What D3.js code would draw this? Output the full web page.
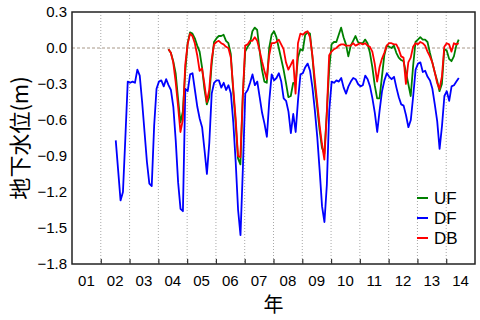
<!DOCTYPE html>
<html>
<head>
<meta charset="utf-8">
<script src="https://cdn.jsdelivr.net/npm/d3@7"></script>
<style>
  body { margin: 0; background: #fff; }
  svg { display: block; font-family: "Liberation Sans", Arial, sans-serif; }
</style>
</head>
<body>
<div id="chart"></div>
<script>
// monthly groundwater level (m), first reading as decimal year
var dfStart = 2002.52;
var ufStart = 2004.35;
var dbStart = 2004.35;

var dfValues = [
  -0.77, -1.02, -1.27, -1.20, -0.75, -0.28, -0.29, -0.28, -0.29, -0.18, -0.23, -0.45,
  -0.70, -0.95, -1.13, -1.15, -0.65, -0.34, -0.28, -0.27, -0.32, -0.26, -0.31, -0.35,
  -0.49, -0.77, -1.12, -1.34, -1.36, -0.34, -0.36, -0.22, -0.21, -0.35, -0.49, -0.59,
  -0.66, -0.85, -1.05, -0.79, -0.38, -0.29, -0.27, -0.27, -0.33, -0.29, -0.35, -0.31,
  -0.38, -0.62, -0.95, -1.35, -1.56, -1.00, -0.38, -0.35, -0.29, -0.22, -0.31, -0.28,
  -0.41, -0.54, -0.63, -0.74, -0.44, -0.22, -0.27, -0.25, -0.21, -0.28, -0.42, -0.44,
  -0.53, -0.71, -0.55, -0.70, -0.43, -0.22, -0.21, -0.16, -0.13, -0.19, -0.33, -0.52,
  -0.74, -1.02, -1.32, -1.45, -1.14, -0.52, -0.28, -0.29, -0.27, -0.28, -0.25, -0.33,
  -0.38, -0.32, -0.28, -0.25, -0.26, -0.30, -0.32, -0.31, -0.23, -0.26, -0.32, -0.42,
  -0.54, -0.70, -0.52, -0.36, -0.27, -0.21, -0.24, -0.26, -0.24, -0.33, -0.41, -0.47,
  -0.48, -0.56, -0.66, -0.60, -0.40, -0.18, -0.13, -0.12, -0.20, -0.19, -0.24, -0.27,
  -0.34, -0.47, -0.61, -0.84, -0.65, -0.40, -0.36, -0.44, -0.32, -0.31, -0.28, -0.25
];

var ufValues = [
  -0.01, -0.04, -0.11, -0.21, -0.42, -0.62, -0.53, -0.20, 0.04, 0.13, 0.12, 0.08,
  0.02, -0.03, -0.16, -0.34, -0.47, -0.41, -0.14, 0.05, 0.08, 0.10, 0.10, 0.11,
  0.06, 0.04, -0.05, -0.36, -0.62, -0.92, -0.97, -0.40, -0.03, 0.01, 0.04, 0.14,
  0.17, 0.15, -0.02, -0.18, -0.28, -0.29, 0.00, 0.11, 0.14, 0.09, 0.00, -0.09,
  -0.18, -0.29, -0.41, -0.40, -0.29, -0.30, -0.08, -0.01, -0.02, 0.11, 0.13, 0.12,
  -0.07, -0.31, -0.49, -0.68, -0.83, -0.88, -0.55, -0.18, 0.03, 0.05, 0.05, 0.11,
  0.17, 0.09, 0.03, -0.07, 0.02, 0.06, 0.10, 0.05, 0.04, 0.04, 0.07, 0.04,
  -0.04, -0.16, -0.31, -0.42, -0.42, -0.24, -0.06, 0.02, 0.01, 0.00, 0.02, -0.04,
  -0.08, -0.10, -0.11, -0.20, -0.30, -0.40, -0.15, 0.05, 0.07, 0.09, 0.07, 0.07,
  0.05, -0.04, -0.12, -0.20, -0.27, -0.36, -0.30, -0.01, -0.02, -0.09, -0.11, -0.07,
  0.02, 0.07
];

var dbValues = [
  -0.01, -0.04, -0.12, -0.28, -0.48, -0.70, -0.60, -0.14, 0.03, 0.12, 0.10, 0.04,
  -0.06, -0.19, -0.17, -0.30, -0.45, -0.35, -0.10, 0.03, 0.05, 0.06, 0.04, 0.03,
  0.01, 0.00, -0.08, -0.33, -0.58, -0.90, -0.91, -0.40, 0.02, 0.03, 0.06, 0.06,
  0.09, 0.06, -0.02, -0.11, -0.19, -0.26, -0.06, 0.04, 0.04, 0.05, 0.07, 0.03,
  -0.01, -0.12, -0.18, -0.14, -0.10, -0.38, 0.04, 0.12, 0.11, 0.13, 0.14, 0.09,
  -0.06, -0.26, -0.45, -0.64, -0.80, -0.93, -0.55, -0.06, -0.03, -0.01, 0.00, 0.02,
  0.03, 0.03, 0.02, 0.02, 0.02, 0.04, 0.02, 0.03, 0.04, 0.03, 0.04, 0.02,
  0.01, -0.03, -0.13, -0.28, -0.16, -0.09, -0.04, 0.02, 0.04, 0.04, 0.03, 0.03,
  -0.01, -0.07, -0.08, -0.30, -0.12, -0.08, 0.01, 0.04, 0.03, 0.05, 0.04, 0.02,
  -0.03, -0.07, -0.12, -0.20, -0.29, -0.34, -0.24, 0.01, 0.04, 0.03, -0.03, 0.04,
  0.03, 0.04
];

var yTicks = [-1.8, -1.5, -1.2, -0.9, -0.6, -0.3, 0.0, 0.3];
var yearBounds = [2002, 2003, 2004, 2005, 2006, 2007, 2008, 2009, 2010, 2011, 2012, 2013, 2014];
var yearLabels = ["01", "02", "03", "04", "05", "06", "07", "08", "09", "10", "11", "12", "13", "14"];
var seriesNames = ["UF", "DF", "DB"];
var seriesColors = ["#008000", "#0000ff", "#ff0000"];

var margin = { top: 12, right: 5, bottom: 56, left: 72 },
  width = 480 - margin.left - margin.right,
  height = 320 - margin.top - margin.bottom;

var svg = d3.select("#chart").append("svg")
  .attr("width", 480)
  .attr("height", 320);

var g = svg.append("g")
  .attr("transform", "translate(" + margin.left + "," + margin.top + ")");

var x = d3.scaleLinear().domain([2001, 2015]).range([0, width]);
var y = d3.scaleLinear().domain([-1.8, 0.3]).range([height, 0]);

function toPoints(values, start) {
  return values.map(function(v, i) { return { t: start + i / 12, v: v }; });
}

// vertical dotted year lines
g.selectAll(".vgrid")
  .data(yearBounds)
  .enter().append("line")
  .attr("x1", function(d) { return x(d); })
  .attr("x2", function(d) { return x(d); })
  .attr("y1", 0)
  .attr("y2", height)
  .attr("stroke", "#a8a8a8")
  .attr("stroke-width", 1)
  .attr("stroke-dasharray", "1,2");

// zero line
g.append("line")
  .attr("x1", 0).attr("x2", width)
  .attr("y1", y(0)).attr("y2", y(0))
  .attr("stroke", "#a89888")
  .attr("stroke-width", 1)
  .attr("stroke-dasharray", "3,2");

var line = d3.line()
  .x(function(d) { return x(d.t); })
  .y(function(d) { return y(d.v); });

var series = [
  { key: "DF", pts: toPoints(dfValues, dfStart), color: seriesColors[1] },
  { key: "UF", pts: toPoints(ufValues, ufStart), color: seriesColors[0] },
  { key: "DB", pts: toPoints(dbValues, dbStart), color: seriesColors[2] }
];

g.selectAll(".serie")
  .data(series)
  .enter().append("path")
  .attr("class", "serie")
  .attr("d", function(d) { return line(d.pts); })
  .attr("fill", "none")
  .attr("stroke", function(d) { return d.color; })
  .attr("stroke-width", 1.8)
  .attr("stroke-linejoin", "round");

// frame
g.append("rect")
  .attr("x", 0).attr("y", 0)
  .attr("width", width).attr("height", height)
  .attr("fill", "none")
  .attr("stroke", "#222")
  .attr("stroke-width", 1.5);

// y axis labels
var yAxis = g.append("g")
  .call(d3.axisLeft(y).tickValues(yTicks).tickSize(0).tickPadding(5).tickFormat(d3.format(".1f")));
yAxis.select(".domain").remove();
yAxis.selectAll("text")
  .attr("font-size", "15px")
  .attr("fill", "#000")
  .attr("font-family", "Liberation Sans, Arial, sans-serif");

// x axis: inward ticks at year boundaries
var xTicks = g.append("g")
  .attr("transform", "translate(0," + height + ")")
  .call(d3.axisBottom(x).tickValues(yearBounds).tickSize(-5).tickFormat(""));
xTicks.select(".domain").remove();
xTicks.selectAll("line").attr("stroke", "#333").attr("stroke-width", 1.2);

// x labels at year centres
g.selectAll(".xlab")
  .data(yearLabels)
  .enter().append("text")
  .attr("x", function(d, i) { return x(2001 + i + 0.5); })
  .attr("y", height + 22)
  .attr("text-anchor", "middle")
  .attr("font-size", "15px")
  .attr("fill", "#000")
  .text(function(d) { return d; });

// axis titles
svg.append("text")
  .attr("transform", "translate(28," + (margin.top + height / 2) + ") rotate(-90)")
  .attr("text-anchor", "middle")
  .attr("font-family", "Noto Sans CJK JP, sans-serif")
  .attr("font-size", "22px")
  .attr("fill", "#000")
  .text("地下水位(m)");

svg.append("text")
  .attr("x", margin.left + width / 2)
  .attr("y", 312)
  .attr("text-anchor", "middle")
  .attr("font-family", "Noto Sans CJK JP, sans-serif")
  .attr("font-size", "20px")
  .attr("fill", "#000")
  .text("年");

// legend
var legend = svg.append("g");
legend.selectAll(".lgline")
  .data(seriesNames)
  .enter().append("line")
  .attr("x1", 417).attr("x2", 428)
  .attr("y1", function(d, i) { return 198 + i * 20; })
  .attr("y2", function(d, i) { return 198 + i * 20; })
  .attr("stroke", function(d, i) { return seriesColors[i]; })
  .attr("stroke-width", 2);
legend.selectAll(".lgtext")
  .data(seriesNames)
  .enter().append("text")
  .attr("x", 434)
  .attr("y", function(d, i) { return 198 + i * 20; })
  .attr("dy", "0.36em")
  .attr("font-size", "17px")
  .attr("fill", "#000")
  .text(function(d) { return d; });
</script>
</body>
</html>
